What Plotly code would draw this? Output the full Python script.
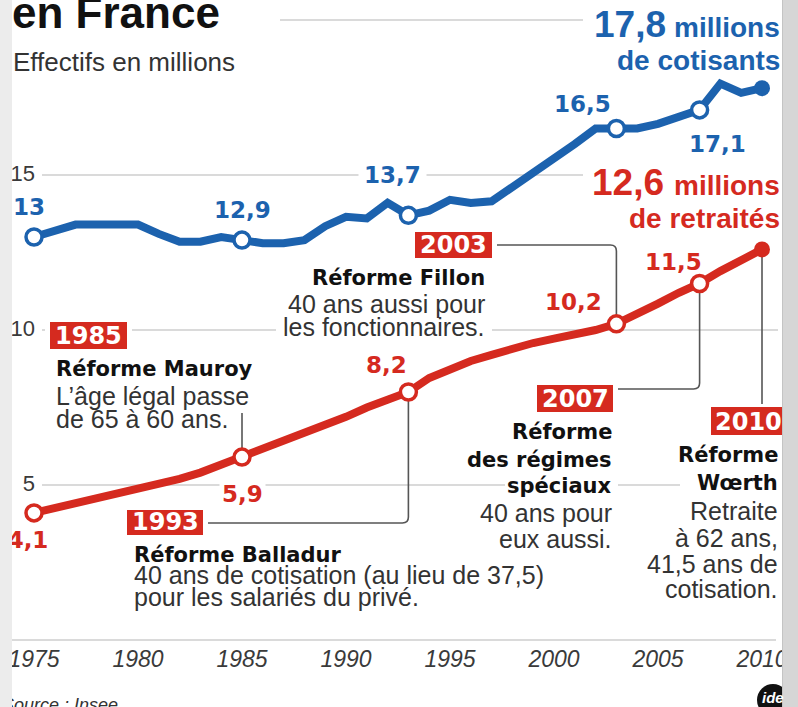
import plotly.graph_objects as go

# ---------------- data ----------------
years = list(range(1975, 2011))
cotisants = [13.0, 13.2, 13.4, 13.4, 13.4, 13.4, 13.1, 12.85, 12.85, 13.0,
             12.9, 12.8, 12.8, 12.9, 13.35, 13.65, 13.6, 14.1, 13.7, 13.85,
             14.2, 14.1, 14.15, 14.6, 15.1, 15.55, 16.0, 16.5, 16.5, 16.5,
             16.65, 16.85, 17.1, 17.95, 17.65, 17.8]
retraites = [4.1, 4.25, 4.4, 4.55, 4.7, 4.9, 5.05, 5.2, 5.4, 5.65,
             5.9, 6.2, 6.45, 6.7, 6.95, 7.2, 7.5, 7.75, 8.0, 8.45,
             8.75, 9.0, 9.2, 9.4, 9.58, 9.72, 9.85, 10.0, 10.2, 10.5,
             10.85, 11.2, 11.5, 11.9, 12.25, 12.6]
marker_years = [1975, 1985, 1993, 2003, 2007]
end_year = 2010
cot_labels = ["13", "12,9", "13,7", "16,5", "17,1"]
ret_labels = ["4,1", "5,9", "8,2", "10,2", "11,5"]
x_ticks = [1975, 1980, 1985, 1990, 1995, 2000, 2005, 2010]
y_ticks = [5, 10, 15]
grid_values = [0, 5, 10, 15, 20]

BLUE = "#1c62ae"
RED = "#d52a1f"
GRID = "#dadada"
LEAD = "#555555"
REG = "Liberation Sans, Arial, sans-serif"
BOLDF = "DejaVu Sans, sans-serif"

W, H = 798, 707
L, R = 12, 16
PPY = 20.8          # px per year
PPV = 31.0          # px per million
X0 = 1975 - (34 - L) / PPY
X1 = X0 + (W - L - R) / PPY
Y0 = (640 - H) / PPV
Y1 = 640 / PPV


def xd(px):
    return X0 + (px - L) / PPY


def yd(py):
    return (640 - py) / PPV


def xpx(year):
    return L + (year - X0) * PPY


def val(series, yr):
    return series[years.index(yr)]


fig = go.Figure()

# lines
fig.add_trace(go.Scatter(x=years, y=cotisants, mode="lines",
                         line=dict(color=BLUE, width=8), hoverinfo="skip"))
fig.add_trace(go.Scatter(x=years, y=retraites, mode="lines",
                         line=dict(color=RED, width=8), hoverinfo="skip"))
# markers
for series, col in ((cotisants, BLUE), (retraites, RED)):
    fig.add_trace(go.Scatter(x=marker_years, y=[val(series, y) for y in marker_years],
                             mode="markers",
                             marker=dict(symbol="circle", size=16, color="white",
                                         line=dict(color=col, width=3.5)),
                             hoverinfo="skip"))
    fig.add_trace(go.Scatter(x=[end_year], y=[val(series, end_year)], mode="markers",
                             marker=dict(symbol="circle", size=16, color=col,
                                         line=dict(color=col, width=0)),
                             hoverinfo="skip"))

# tick labels (clipped text traces)
fig.add_trace(go.Scatter(x=x_ticks, y=[yd(661)] * len(x_ticks), mode="text",
                         text=[str(t) for t in x_ticks], textposition="middle center",
                         textfont=dict(family=REG, size=23, color="#3a3a3a", style="italic"),
                         cliponaxis=True, hoverinfo="skip"))
fig.add_trace(go.Scatter(x=[xd(35)] * len(y_ticks), y=y_ticks, mode="text",
                         text=[str(t) for t in y_ticks], textposition="middle left",
                         textfont=dict(family=REG, size=22, color="#3a3a3a"),
                         cliponaxis=True, hoverinfo="skip"))
# labels near the left edge (clipped)
fig.add_trace(go.Scatter(x=[xd(29), xd(28)], y=[yd(209), yd(542)], mode="text",
                         text=[cot_labels[0], ret_labels[0]], textposition="middle center",
                         textfont=dict(family=BOLDF, size=23, color=[BLUE, RED], weight="bold"),
                         cliponaxis=True, hoverinfo="skip"))
fig.add_trace(go.Scatter(x=[xd(2)], y=[yd(706)], mode="text",
                         text=["Source : Insee"], textposition="middle right",
                         textfont=dict(family=REG, size=18, color="#333333", style="italic"),
                         cliponaxis=True, hoverinfo="skip"))

shapes = []
# gridlines
grid_spans = {0: (12, 776), 5: (42, 778), 10: (42, 778), 15: (42, 583), 20: (280, 583)}
for g in grid_values:
    a, b = grid_spans[g]
    shapes.append(dict(type="line", xref="x", yref="y", x0=xd(a), x1=xd(b), y0=g, y1=g,
                       line=dict(color=GRID, width=2), layer="below"))


def leader(d):
    shapes.append(dict(type="path", xref="x", yref="y", path=d,
                       line=dict(color=LEAD, width=1.6), layer="below"))


def P(px, py):
    return f"{xd(px)},{yd(py)}"


x85 = xpx(1985)
leader(f"M {P(x85, 413)} L {xd(x85)},{val(retraites, 1985)}")
x93 = xpx(1993)
leader(f"M {P(205, 523)} L {P(x93 - 6, 523)} Q {P(x93, 523)} {P(x93, 517)} "
       f"L {xd(x93)},{val(retraites, 1993)}")
x03 = xpx(2003)
leader(f"M {P(494, 245)} L {P(x03 - 6, 245)} Q {P(x03, 245)} {P(x03, 251)} "
       f"L {xd(x03)},{val(retraites, 2003)}")
x07 = xpx(2007)
leader(f"M {P(615, 389)} L {P(x07 - 6, 389)} Q {P(x07, 389)} {P(x07, 383)} "
       f"L {xd(x07)},{val(retraites, 2007)}")
x10 = xpx(2010)
leader(f"M {P(x10, 406)} L {xd(x10)},{val(retraites, 2010)}")

# year boxes
boxes = [("1985", 50, 127, 322, 349), ("1993", 127, 203, 510, 535),
         ("2003", 415, 492, 232, 258), ("2007", 537, 613, 385, 412),
         ("2010", 711, 790, 407, 435)]
for _, a, b, t, u in boxes:
    shapes.append(dict(type="rect", xref="x", yref="y", x0=xd(a - 5), x1=xd(b + 5),
                       y0=yd(u + 3), y1=yd(t - 3), fillcolor="white",
                       line=dict(width=0), layer="above"))
    shapes.append(dict(type="rect", xref="x", yref="y", x0=xd(a), x1=xd(b),
                       y0=yd(u), y1=yd(t), fillcolor=RED,
                       line=dict(width=0), layer="above"))

# logo + right strip
shapes.append(dict(type="circle", xref="paper", yref="paper",
                   x0=(757 - L) / (W - L - R), x1=(789 - L) / (W - L - R),
                   y0=1 - 716 / H, y1=1 - 684 / H, fillcolor="#111111",
                   line=dict(width=0), layer="above"))
shapes.append(dict(type="rect", xref="paper", yref="paper",
                   x0=(782 - L) / (W - L - R), x1=(W - L) / (W - L - R), y0=0, y1=1,
                   fillcolor="#d6d6d6", line=dict(width=0), layer="above"))
shapes.append(dict(type="line", xref="paper", yref="paper",
                   x0=(782.5 - L) / (W - L - R), x1=(782.5 - L) / (W - L - R), y0=0, y1=1,
                   line=dict(color="#c4c4c4", width=1), layer="above"))

ann = []


def label(text, px, base, size, color, family=REG, weight="normal", xanchor="left",
          bg=None, pad=0, style="normal"):
    a = dict(text=text, x=(px - L) / (W - L - R), y=1 - (base - 0.35 * size) / H,
             xref="paper", yref="paper", xanchor=xanchor, yanchor="middle",
             showarrow=False, borderpad=pad,
             font=dict(family=family, size=size, color=color, weight=weight, style=style))
    if bg:
        a["bgcolor"] = bg
    ann.append(a)


# title
label("en France", 11, 28, 44, "#111111", family=REG, weight="bold")
label("Effectifs en millions", 12, 71, 26, "#333333")
# headlines
label("17,8", 667, 37, 37, BLUE, weight="bold", xanchor="right")
label("millions", 781, 37, 28, BLUE, weight="bold", xanchor="right")
label("de cotisants", 781, 70, 28, BLUE, weight="bold", xanchor="right")
label("12,6", 667, 195, 37, RED, weight="bold", xanchor="right", bg="white", pad=2)
label("millions", 781, 195, 28, RED, weight="bold", xanchor="right")
label("de retraités", 781, 228, 28, RED, weight="bold", xanchor="right")

# value labels
cot_pos = [None, (242, 218), (392, 183), (582, 112), (717, 152)]
ret_pos = [None, (242, 502), (386, 373), (573, 310), (673, 270)]
for i in range(1, len(marker_years)):
    px, b = cot_pos[i]
    label(cot_labels[i], px, b, 23, BLUE, family=BOLDF, weight="bold", xanchor="center",
          bg="white" if i == 2 else None, pad=5)
    px, b = ret_pos[i]
    label(ret_labels[i], px, b, 23, RED, family=BOLDF, weight="bold", xanchor="center",
          bg="white" if i == 1 else None, pad=2)

# year box texts
for txt, a, b, t, u in boxes:
    label(txt, (a + b) / 2 if txt != "2010" else 748, u - 4.5, 24, "white",
          family=BOLDF, weight="bold", xanchor="center")


def block(lines, px, xanchor):
    for text, base, bold, bg, pad in lines:
        if bold:
            label(text, px, base, 21, "#111111", family=BOLDF, weight="bold",
                  xanchor=xanchor, bg=bg, pad=pad)
        else:
            label(text, px, base, 25, "#333333", family=REG, xanchor=xanchor, bg=bg, pad=pad)


block([("Réforme Mauroy", 376, True, None, 0),
       ("L’âge légal passe", 405, False, None, 0),
       ("de 65 à 60 ans.", 428, False, None, 0)], 55, "left")
block([("Réforme Fillon", 285, True, None, 0),
       ("40 ans aussi pour", 313, False, None, 0),
       ("les fonctionnaires.", 336, False, None, 0)], 486, "right")
block([("Réforme Balladur", 562, True, None, 0),
       ("40 ans de cotisation (au lieu de 37,5)", 584, False, None, 0),
       ("pour les salariés du privé.", 606, False, None, 0)], 133, "left")
block([("Réforme", 439, True, None, 0),
       ("des régimes", 467, True, None, 0),
       ("spéciaux", 493, True, None, 0),
       ("40 ans pour", 522, False, None, 0),
       ("eux aussi.", 548, False, None, 0)], 613, "right")
block([("Réforme", 462, True, None, 0),
       ("Wœrth", 490, True, None, 0),
       ("Retraite", 520, False, None, 0),
       ("à 62 ans,", 547, False, None, 0),
       ("41,5 ans de", 573, False, None, 0),
       ("cotisation.", 598, False, None, 0)], 779, "right")

# white masks behind texts that sit on gridlines (drawn as shapes below traces)
masks = [(276, 492, 321, 340), (505, 618, 477, 494), (680, 781, 477, 494)]
for a, b, t, u in masks:
    shapes.append(dict(type="rect", xref="x", yref="y", x0=xd(a), x1=xd(b),
                       y0=yd(u), y1=yd(t), fillcolor="white",
                       line=dict(width=0), layer="below"))

label("ide", 773, 703, 15, "white", family=REG, weight="bold", xanchor="center",
      style="italic")

fig.update_layout(
    width=W, height=H, autosize=False,
    margin=dict(l=L, r=R, t=0, b=0, pad=0),
    paper_bgcolor="#ececec", plot_bgcolor="white",
    showlegend=False,
    xaxis=dict(range=[X0, X1], visible=False, fixedrange=True),
    yaxis=dict(range=[Y0, Y1], visible=False, fixedrange=True),
    shapes=shapes, annotations=ann,
    hovermode=False,
)

fig.write_html("out.html", config={"displayModeBar": False},
               post_script="document.body.style.margin='0px';")
